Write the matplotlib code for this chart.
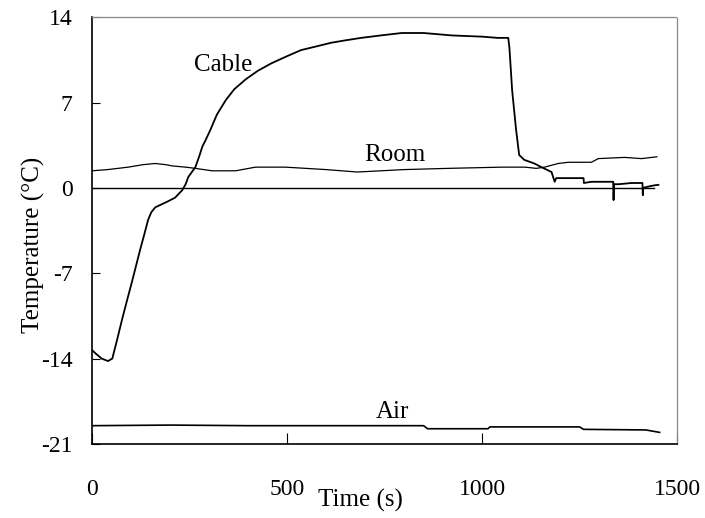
import matplotlib
matplotlib.use("Agg")
import matplotlib.pyplot as plt

plt.rcParams['font.family'] = ['Liberation Serif', 'DejaVu Serif']
plt.rcParams['axes.unicode_minus'] = False

# cable temperature (s, degC)
cable_t = [0, 10, 25, 41, 52, 64, 77, 90, 100, 112, 124, 135, 144, 152, 162, 175,
           195, 213, 231, 240, 247, 256, 265, 275, 283, 291, 304, 320, 343, 365,
           394, 425, 459, 500, 536, 575, 613, 650, 690, 740, 794, 850, 923, 1000,
           1040, 1067, 1070, 1074, 1077, 1082, 1087, 1095, 1108, 1134, 1152, 1178,
           1186, 1190, 1225, 1260, 1261, 1280, 1310, 1336, 1337, 1338, 1350, 1383,
           1404, 1411, 1412, 1413, 1425, 1440, 1452]
cable_T = [-13.3, -13.6, -14.0, -14.2, -14.0, -12.5, -10.8, -9.2, -8.0, -6.5, -5.0,
           -3.7, -2.6, -2.0, -1.6, -1.4, -1.1, -0.8, -0.2, 0.3, 0.9, 1.3, 1.7, 2.6,
           3.4, 3.9, 4.8, 6.0, 7.2, 8.1, 8.9, 9.6, 10.2, 10.8, 11.3, 11.6, 11.9, 12.1,
           12.3, 12.5, 12.7, 12.7, 12.5, 12.4, 12.3, 12.3, 11.5, 9.5, 8.0, 6.4, 4.8,
           2.7, 2.3, 2.0, 1.7, 1.3, 0.5, 0.8, 0.8, 0.8, 0.4, 0.5, 0.5, 0.5, -1.0, 0.3,
           0.3, 0.4, 0.4, 0.4, -0.6, 0.0, 0.1, 0.2, 0.25]

# room temperature
room_t = [0, 40, 93, 130, 162, 190, 206, 240, 265, 308, 368, 419, 496, 600, 680,
          800, 913, 1050, 1110, 1139, 1160, 1195, 1221, 1280, 1298, 1365, 1409, 1448]
room_T = [1.4, 1.5, 1.7, 1.9, 2.0, 1.9, 1.8, 1.7, 1.6, 1.4, 1.4, 1.7, 1.7, 1.5, 1.3,
          1.5, 1.6, 1.7, 1.7, 1.6, 1.7, 2.0, 2.1, 2.1, 2.4, 2.5, 2.4, 2.55]

# air temperature
air_t = [0, 200, 400, 600, 850, 860, 1015, 1020, 1250, 1260, 1420, 1455]
air_T = [-19.5, -19.45, -19.5, -19.5, -19.5, -19.75, -19.75, -19.6, -19.6, -19.8,
         -19.85, -20.05]

# zero reference
zero_t = [0, 1440]
zero_T = [0, 0]

fig = plt.figure(figsize=(7.05, 5.18), dpi=100)
ax = fig.add_axes([0.1305, 0.1429, 0.830, 0.824])

ax.plot(zero_t, zero_T, color='black', lw=1.0)
ax.plot(room_t, room_T, color='black', lw=0.9)
ax.plot(air_t, air_T, color='black', lw=1.2)
ax.plot(cable_t, cable_T, color='black', lw=1.3)

ax.text(336, 10.1, 'Cable', fontsize=18, ha='center', va='center')
ax.text(777, 2.7, 'Room', fontsize=18, ha='center', va='center')
ax.text(769, -18.4, 'Air', fontsize=18, ha='center', va='center')

ax.set_xlim(0, 1500)
ax.set_ylim(-21, 14)
ax.set_xticks([0, 500, 1000, 1500])
ax.set_yticks([-21, -14, -7, 0, 7, 14])
ax.tick_params(axis='both', direction='in', labelsize=17, color='black')
ax.tick_params(axis='x', length=8, pad=25)
ax.tick_params(axis='y', length=6, pad=14)

for side in ['top', 'right']:
    ax.spines[side].set_linestyle((0, (1, 1)))
    ax.spines[side].set_color('#888888')
    ax.spines[side].set_linewidth(0.9)
for side in ['left', 'bottom']:
    ax.spines[side].set_color('black')
    ax.spines[side].set_linewidth(1.2)

ax.set_xlabel('Time (s)', fontsize=18, va='center')
ax.xaxis.set_label_coords(0.458, -0.133)
ax.set_ylabel('Temperature (°C)', fontsize=18, va='center')
ax.yaxis.set_label_coords(-0.10, 0.466)

fig.savefig('out.png', dpi=100)
